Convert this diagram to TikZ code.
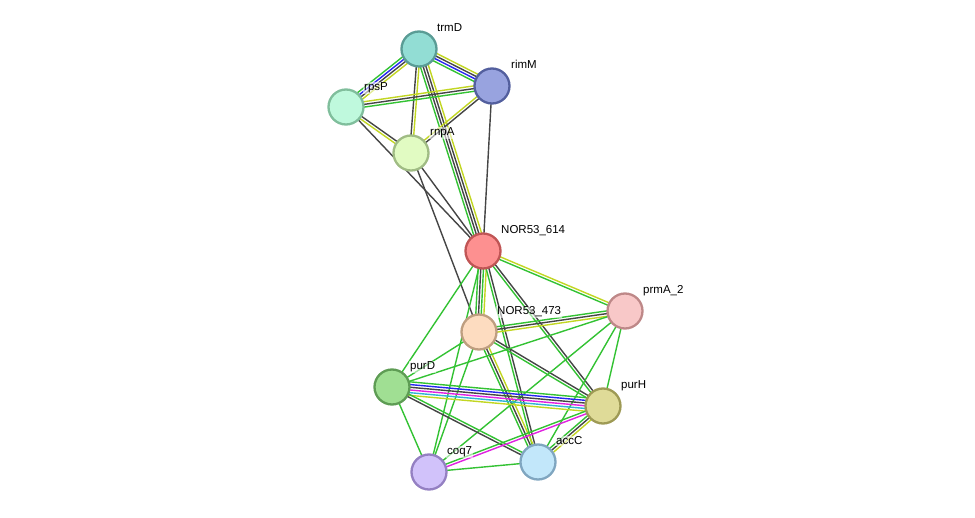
\documentclass[tikz,border=0pt]{standalone}
\usepackage{fontspec}
\setmainfont{Liberation Sans}
\usetikzlibrary{calc,backgrounds}
\definecolor{eg}{HTML}{33C233}
\definecolor{eb}{HTML}{2626F0}
\definecolor{ek}{HTML}{454545}
\definecolor{ey}{HTML}{C2D622}
\definecolor{em}{HTML}{E022E0}
\definecolor{ec}{HTML}{30B4D4}
\definecolor{ftrmD}{HTML}{92DDD4}\definecolor{btrmD}{HTML}{5A9C95}
\definecolor{frimM}{HTML}{98A3DF}\definecolor{brimM}{HTML}{535F9E}
\definecolor{frpsP}{HTML}{BFF9DD}\definecolor{brpsP}{HTML}{80BE9C}
\definecolor{frnpA}{HTML}{E1FBC2}\definecolor{brnpA}{HTML}{A0BC84}
\definecolor{fn614}{HTML}{FD9090}\definecolor{bn614}{HTML}{C05555}
\definecolor{fprmA}{HTML}{F8C8C8}\definecolor{bprmA}{HTML}{BE8888}
\definecolor{fn473}{HTML}{FDDCC0}\definecolor{bn473}{HTML}{BE9E80}
\definecolor{fpurD}{HTML}{A0DF93}\definecolor{bpurD}{HTML}{5E9C54}
\definecolor{fpurH}{HTML}{DFDB98}\definecolor{bpurH}{HTML}{9E9A55}
\definecolor{fcoq7}{HTML}{D1C2FA}\definecolor{bcoq7}{HTML}{9480C2}
\definecolor{faccC}{HTML}{C2E7FA}\definecolor{baccC}{HTML}{80A6C0}
\newcommand{\ppiedge}[4]{%
  \foreach \cl [count=\i] in {#4} {
    \pgfmathsetmacro{\off}{(\i-(#3+1)/2)*2.7}
    \draw[draw=\cl, line width=1.4pt] ($(#1.center)!\off pt!90:(#2.center)$) -- ($(#2.center)!\off pt!-90:(#1.center)$);
  }}
\tikzset{
  prot/.style 2 args={circle, draw=#2, fill=#1, line width=2.3pt, minimum size=35pt, inner sep=0pt},
  lab/.style={anchor=base west, inner xsep=1pt, inner ysep=1pt, fill=white, fill opacity=0.55, text opacity=1, font=\fontsize{11.5}{13}\selectfont, text=black, xshift=-1pt}
}
\begin{document}
\begin{tikzpicture}[x=1pt,y=-1pt]
\useasboundingbox (0,0) rectangle (975,518);
% nodes
\node[prot={ftrmD}{btrmD}] (trmD) at (419,49) {};
\node[prot={frimM}{brimM}] (rimM) at (492,86) {};
\node[prot={frpsP}{brpsP}] (rpsP) at (346,107) {};
\node[prot={frnpA}{brnpA}] (rnpA) at (411,153) {};
\node[prot={fn614}{bn614}] (n614) at (483,251) {};
\node[prot={fprmA}{bprmA}] (prmA) at (625,311) {};
\node[prot={fn473}{bn473}] (n473) at (479,332) {};
\node[prot={fpurD}{bpurD}] (purD) at (392,387) {};
\node[prot={fpurH}{bpurH}] (purH) at (603,406) {};
\node[prot={fcoq7}{bcoq7}] (coq7) at (429,472) {};
\node[prot={faccC}{baccC}] (accC) at (538,462) {};
% labels
\node[lab] (ltrmD) at (437,32) {trmD};
\node[lab] (lrimM) at (511,69) {rimM};
\node[lab] (lrpsP) at (364,91) {rpsP};
\node[lab] (lrnpA) at (430,136) {rnpA};
\node[lab] (ln614) at (501,234) {NOR53\_614};
\node[lab] (lprmA) at (643,294) {prmA\_2};
\node[lab] (ln473) at (497,315) {NOR53\_473};
\node[lab] (lpurD) at (410,370) {purD};
\node[lab] (lpurH) at (621,389) {purH};
\node[lab] (lcoq7) at (447,455) {coq7};
\node[lab] (laccC) at (556,445) {accC};
% edges
\begin{pgfonlayer}{background}
\ppiedge{trmD}{rpsP}{4}{eg,eb,ek,ey}
\ppiedge{trmD}{rimM}{4}{eg,eb,ek,ey}
\ppiedge{trmD}{rnpA}{2}{ek,ey}
\ppiedge{trmD}{n614}{4}{eg,ek,ek,ey}
\ppiedge{rpsP}{rimM}{3}{eg,ek,ey}
\ppiedge{rpsP}{rnpA}{2}{ey,ek}
\ppiedge{rpsP}{n614}{1}{ek}
\ppiedge{rimM}{rnpA}{2}{ey,ek}
\ppiedge{rimM}{n614}{1}{ek}
\ppiedge{rnpA}{n614}{1}{ek}
\ppiedge{rnpA}{n473}{1}{ek}
\ppiedge{n614}{prmA}{2}{eg,ey}
\ppiedge{n614}{n473}{4}{eg,ek,eg,ey}
\ppiedge{n614}{purD}{1}{eg}
\ppiedge{n614}{purH}{2}{eg,ek}
\ppiedge{n614}{accC}{2}{eg,ek}
\ppiedge{n614}{coq7}{1}{eg}
\ppiedge{n473}{prmA}{3}{ey,ek,eg}
\ppiedge{n473}{purD}{1}{eg}
\ppiedge{n473}{purH}{2}{eg,ek}
\ppiedge{n473}{accC}{3}{eg,ek,ey}
\ppiedge{n473}{coq7}{1}{eg}
\ppiedge{prmA}{purD}{1}{eg}
\ppiedge{prmA}{purH}{1}{eg}
\ppiedge{prmA}{accC}{1}{eg}
\ppiedge{prmA}{coq7}{1}{eg}
\ppiedge{purD}{purH}{6}{ey,ec,em,ek,eb,eg}
\ppiedge{purD}{accC}{2}{ek,eg}
\ppiedge{purD}{coq7}{1}{eg}
\ppiedge{purH}{accC}{3}{eg,ek,ey}
\ppiedge{purH}{coq7}{2}{eg,em}
\ppiedge{coq7}{accC}{1}{eg}
\end{pgfonlayer}
\end{tikzpicture}
\end{document}
